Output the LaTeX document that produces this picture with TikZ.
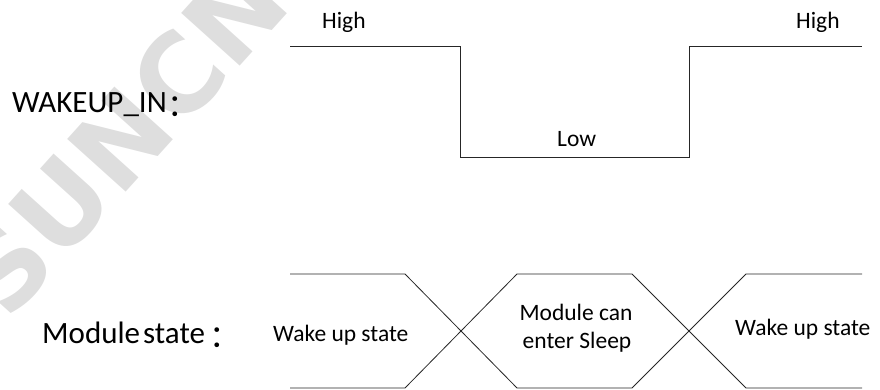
\documentclass[tikz,border=0pt]{standalone}
\usepackage{fontspec}
\setmainfont{Carlito}
\newfontfamily\cjk{Noto Sans CJK SC}
\newfontfamily\wmfont{DejaVu Sans}
\newcommand{\fwcolon}{\raisebox{-4pt}{\cjk ：}}
\begin{document}
\begin{tikzpicture}[x=1pt,y=-1pt,
  wave/.style={line width=1pt,draw=black!85,line join=miter},
  bus/.style={line width=0.8pt,draw=black!85,line join=miter},
  small/.style={font=\fontsize{23.5}{28}\selectfont,inner sep=0pt,anchor=base west},
  big/.style={font=\fontsize{31}{36}\selectfont,inner sep=0pt,anchor=base west},
  wmark/.style={font=\wmfont\bfseries\fontsize{108}{110}\selectfont,text=black!13,rotate=48,inner sep=0pt}]
\useasboundingbox (0,0) rectangle (880,390);
% watermark
\node[wmark] (wm) at (122,138) {SUNCN};
% WAKEUP_IN waveform
\draw[wave] (290,47) -- (460,47) -- (460,158) -- (689,158) -- (689,47) -- (862,47);
\node[small] (hiL) at (322,29) {High};
\node[small] (hiR) at (796,29) {High};
\node[small] (low) at (557,147) {Low};
\node[big] (wk) at (12,113) {WAKEUP\_IN\kern1pt\fwcolon};
% module state bus
\draw[bus] (290,274) -- (405,274) -- (517,388) -- (632,388) -- (746,274) -- (862,274);
\draw[bus] (290,388) -- (405,388) -- (517,274) -- (632,274) -- (746,388) -- (862,388);
\node[big] (ms) at (42,343) {Module \kern-4pt state\kern5pt\fwcolon};
\node[small] (s1) at (273,341) {Wake up state};
\node[small,anchor=base] (s2a) at (576,320) {Module can};
\node[small,anchor=base] (s2b) at (577,348) {enter Sleep};
\node[small] (s3) at (735,335) {Wake up state};
\end{tikzpicture}
\end{document}
